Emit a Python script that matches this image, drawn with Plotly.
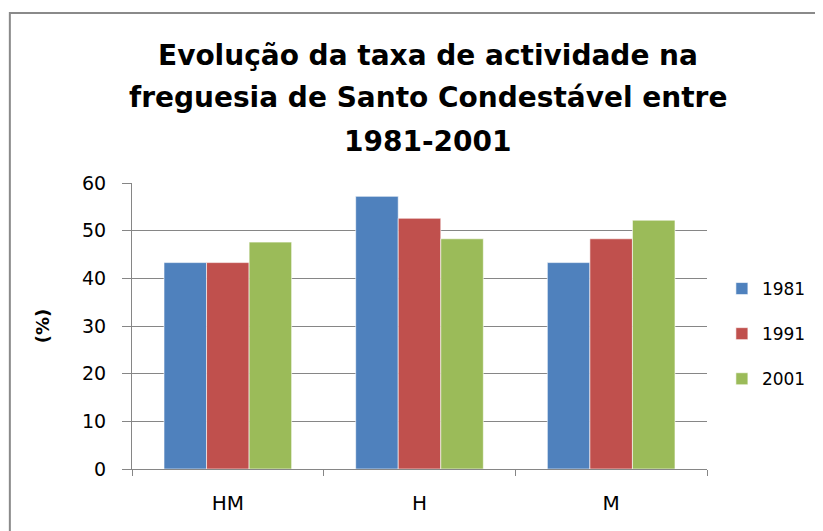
import plotly.graph_objects as go

# categories and series values
categorias = ["HM", "H", "M"]
anos = ["1981", "1991", "2001"]
taxa_1981 = [43.3, 57.2, 43.3]
taxa_1991 = [43.3, 52.6, 48.3]
taxa_2001 = [47.6, 48.3, 52.2]
y_ticks = [0, 10, 20, 30, 40, 50, 60]

titulo = ["Evolução da taxa de actividade na",
          "freguesia de Santo Condestável entre",
          "1981-2001"]

colors = ["#4F81BD", "#C0504D", "#9BBB59"]
FONT = "DejaVu Sans, Arial, sans-serif"

# page is drawn with the browser's 8px body margin, so work in page pixels
# and keep the figure small enough that no scrollbars appear
OFF = 8
W, H = 823 - OFF, 531 - OFF
PX0, PX1, PY0, PY1 = 132, 711, 183, 469   # plot area in page pixels
L, T = PX0 - OFF, PY0 - OFF
pw, ph = PX1 - PX0, PY1 - PY0
R, B = W - L - pw, H - T - ph


def px(x):
    return (x - PX0) / pw


def py(y):
    return (PY1 - y) / ph


fig = go.Figure()
for i, (ano, vals) in enumerate(zip(anos, [taxa_1981, taxa_1991, taxa_2001])):
    fig.add_trace(go.Bar(
        x=categorias, y=vals, name=ano,
        marker=dict(color=colors[i], line=dict(width=0.6, color="white")),
        legendgroup=ano,
    ))

# title lines as separate annotations so the line spacing matches
for k, line in enumerate(titulo):
    fig.add_annotation(
        text=f"<b>{line}</b>", xref="paper", yref="paper",
        x=px(430), y=py(55 + 43 * k),
        showarrow=False, xanchor="center", yanchor="middle",
        font=dict(family=FONT, size=28, color="black"),
    )

# outer chart frame
fig.add_shape(type="rect", xref="paper", yref="paper",
              x0=px(OFF + 1), x1=1.5, y0=-0.5, y1=py(13),
              line=dict(color="#8a8a8a", width=2), fillcolor="rgba(0,0,0,0)",
              layer="below")

fig.update_layout(
    width=W, height=H,
    margin=dict(l=L, r=R, t=T, b=B),
    barmode="group", bargap=0.334, bargroupgap=0,
    plot_bgcolor="white", paper_bgcolor="white",
    font=dict(family=FONT, size=18, color="black"),
    showlegend=True,
    legend=dict(x=px(726), y=py(271), xanchor="left", yanchor="top",
                font=dict(family=FONT, size=17, color="black"),
                tracegroupgap=20, itemwidth=30, bgcolor="rgba(0,0,0,0)"),
    xaxis=dict(
        automargin=False,
        showline=True, linecolor="#868686", linewidth=1,
        ticks="outside", tickson="boundaries", ticklen=6, tickcolor="#868686",
        ticklabelstandoff=16, tickfont=dict(size=20),
        showgrid=False,
    ),
    yaxis=dict(
        automargin=False,
        range=[0, 60], tickvals=y_ticks,
        showline=True, linecolor="#868686", linewidth=1,
        ticks="outside", ticklen=9, tickcolor="#868686",
        ticklabelstandoff=12, tickfont=dict(size=19),
        showgrid=True, gridcolor="#868686", gridwidth=1, zeroline=False,
        title=dict(text="<b>(%)</b>", font=dict(size=18), standoff=27),
    ),
)

fig.write_html("out.html")
